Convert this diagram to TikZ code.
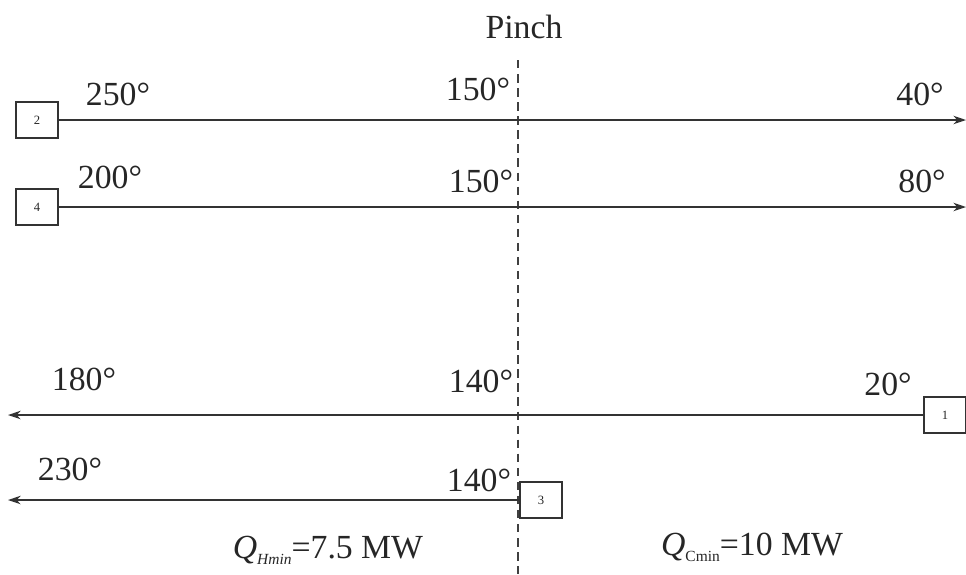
\documentclass[tikz,border=0pt]{standalone}
\usepackage{fontspec}
\setmainfont{Liberation Serif}
\usetikzlibrary{arrows.meta}
\begin{document}
\begin{tikzpicture}[x=0.025cm,y=-0.025cm,
  every node/.style={font=\fontsize{24}{28}\selectfont, text=black!85},
  streambox/.style={draw=black!80, line width=0.8pt, rectangle, minimum width=1.05cm, minimum height=0.9cm, inner sep=0, font=\fontsize{9}{10}\selectfont},
  flow/.style={line width=1pt, draw=black!80, -{Stealth[length=9pt,width=6pt]}},
  temp/.style={anchor=base}]
  \useasboundingbox (0,0) rectangle (966,574);
  % pinch
  \node[temp] (pinch) at (524,38) {Pinch};
  \coordinate (ptop) at (518,60);
  \coordinate (pbot) at (518,574);
  \draw[line width=0.9pt, black!75, dash pattern=on 6pt off 4pt] (ptop) -- (pbot);
  % hot streams
  \foreach \i/\y in {2/120,4/207} {
    \node[streambox] (s\i) at (37,\y) {\i};
    \coordinate (e\i) at (966,\y);
    \draw[flow] (s\i) -- (e\i);
  }
  % cold streams
  \foreach \i/\x/\y in {1/945/415,3/541/500} {
    \node[streambox] (s\i) at (\x,\y) {\i};
    \coordinate (e\i) at (8,\y);
    \draw[flow] (s\i) -- (e\i);
  }
  % temperatures
  \foreach \n/\x/\y/\lab in {a/118/105/250,b/478/100/150,c/920/105/40,
                             d/110/188/200,e/481/192/150,f/922/192/80,
                             g/84/390/180,h/481/392/140,k/888/395/20,
                             m/70/480/230,n/479/491/140} {
    \node[temp] (t\n) at (\x,\y) {\lab°};
  }
  % targets
  \node[temp] (qhot) at (328,558) {{\itshape Q}\raisebox{-0.4ex}{\fontsize{11}{11}\selectfont\itshape Hmin}=7.5 MW};
  \node[temp] (qcold) at (752,555) {{\itshape Q}\raisebox{-0.4ex}{\fontsize{11}{11}\selectfont Cmin}=10 MW};
\end{tikzpicture}
\end{document}
